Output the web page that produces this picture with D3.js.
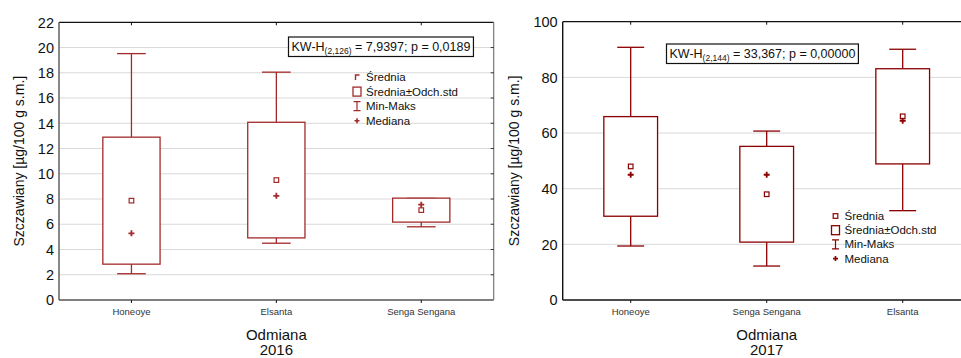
<!DOCTYPE html>
<html>
<head>
<meta charset="utf-8">
<script src="https://cdn.jsdelivr.net/npm/d3@7"></script>
<style>
  html, body { margin: 0; padding: 0; background: #fff; }
  svg { display: block; font-family: "Liberation Sans", Arial, sans-serif; }
</style>
</head>
<body>
<svg id="chart" width="961" height="358"></svg>
<script>
// 2016 season: oxalates per cultivar (mean, SD, median, min, max)
const categories2016 = ["Honeoye", "Elsanta", "Senga Sengana"];
const mean2016   = [7.87, 9.50, 7.12];
const sd2016     = [5.03, 4.58, 0.95];
const median2016 = [5.28, 8.25, 7.55];
const min2016    = [2.08, 4.50, 5.80];
const max2016    = [19.52, 18.05, 8.05];
const yTicks2016 = [0, 2, 4, 6, 8, 10, 12, 14, 16, 18, 20, 22];

// 2017 season
const categories2017 = ["Honeoye", "Senga Sengana", "Elsanta"];
const mean2017   = [48.0, 38.0, 66.0];
const sd2017     = [17.9, 17.2, 17.1];
const median2017 = [45.0, 45.0, 64.4];
const min2017    = [19.4, 12.2, 32.1];
const max2017    = [90.8, 60.7, 90.1];
const yTicks2017 = [0, 20, 40, 60, 80, 100];

const yTitle = "Szczawiany [µg/100 g s.m.]";
const xTitle = "Odmiana";
const legendLabels = ["Średnia", "Średnia±Odch.std", "Min-Maks", "Mediana"];

const svg = d3.select("#chart");

function drawPanel(cfg) {
  const g = svg.append("g");
  const x = d3.scalePoint().domain(cfg.categories).range([cfg.left, cfg.right]).padding(0.5);
  const y = d3.scaleLinear().domain([0, cfg.yMax]).range([cfg.bottom, cfg.top]);
  const step = x.step();
  const boxW = step * 0.395;
  const capW = step * 0.198;
  const col = cfg.color;

  // gridlines
  g.selectAll("line.grid").data(cfg.yTicks.filter(t => t > 0 && t < cfg.yMax)).enter()
    .append("line")
    .attr("x1", cfg.left).attr("x2", cfg.right)
    .attr("y1", d => y(d)).attr("y2", d => y(d))
    .attr("stroke", "#d9d9d9").attr("stroke-width", 1);

  // frame
  g.append("line").attr("x1", cfg.left).attr("x2", cfg.right).attr("y1", y(cfg.yMax)).attr("y2", y(cfg.yMax))
    .attr("stroke", "#111").attr("stroke-width", 1.2);
  g.append("line").attr("x1", cfg.left).attr("x2", cfg.right).attr("y1", cfg.bottom).attr("y2", cfg.bottom)
    .attr("stroke", cfg.axisColor).attr("stroke-width", 1.4);
  g.append("line").attr("x1", cfg.left).attr("x2", cfg.left).attr("y1", cfg.top).attr("y2", cfg.bottom)
    .attr("stroke", cfg.axisColor).attr("stroke-width", 1.4);
  if (cfg.right < 961) {
    g.append("line").attr("x1", cfg.right).attr("x2", cfg.right).attr("y1", cfg.top).attr("y2", cfg.bottom)
      .attr("stroke", "#777").attr("stroke-width", 1.2);
    g.selectAll("line.rt").data(cfg.yTicks.filter(t => t > 0 && t < cfg.yMax)).enter()
      .append("line")
      .attr("x1", cfg.right - 3).attr("x2", cfg.right)
      .attr("y1", d => y(d)).attr("y2", d => y(d))
      .attr("stroke", "#333").attr("stroke-width", 1);
  }

  // category ticks, top (inward) and bottom (outward)
  cfg.categories.forEach(c => {
    g.append("line").attr("x1", x(c)).attr("x2", x(c)).attr("y1", y(cfg.yMax)).attr("y2", y(cfg.yMax) + 3)
      .attr("stroke", "#111");
    g.append("line").attr("x1", x(c)).attr("x2", x(c)).attr("y1", cfg.bottom).attr("y2", cfg.bottom + 3)
      .attr("stroke", "#111");
  });

  // y axis tick labels
  g.selectAll("text.yt").data(cfg.yTicks).enter().append("text")
    .attr("x", cfg.left - 5).attr("y", d => y(d)).attr("dy", "0.36em")
    .attr("text-anchor", "end").attr("font-size", 14.5).attr("fill", "#111")
    .text(d => d);

  // x tick labels
  g.selectAll("text.xt").data(cfg.categories).enter().append("text")
    .attr("x", d => x(d)).attr("y", 315).attr("text-anchor", "middle")
    .attr("font-size", 9.5).attr("fill", "#333").text(d => d);

  // axis titles
  g.append("text").attr("transform", `translate(${cfg.yTitleX},${(cfg.top + cfg.bottom) / 2}) rotate(-90)`)
    .attr("text-anchor", "middle").attr("font-size", 14).attr("fill", "#111").text(yTitle);
  const midX = x(cfg.categories[1]);
  g.append("text").attr("x", midX).attr("y", 339.5).attr("text-anchor", "middle")
    .attr("font-size", 15).attr("fill", "#111").text(xTitle);
  g.append("text").attr("x", midX).attr("y", 355).attr("text-anchor", "middle")
    .attr("font-size", 15).attr("fill", "#111").text(cfg.year);

  // box plots
  cfg.categories.forEach((c, i) => {
    const cx = x(c);
    const lo = cfg.mean[i] - cfg.sd[i], hi = cfg.mean[i] + cfg.sd[i];
    // whiskers
    g.append("line").attr("x1", cx).attr("x2", cx).attr("y1", y(hi)).attr("y2", y(cfg.max[i]))
      .attr("stroke", col).attr("stroke-width", 1.3);
    g.append("line").attr("x1", cx).attr("x2", cx).attr("y1", y(lo)).attr("y2", y(cfg.min[i]))
      .attr("stroke", col).attr("stroke-width", 1.3);
    g.append("line").attr("x1", cx - capW / 2).attr("x2", cx + capW / 2)
      .attr("y1", y(cfg.max[i])).attr("y2", y(cfg.max[i]))
      .attr("stroke", col).attr("stroke-width", 1.3);
    g.append("line").attr("x1", cx - capW / 2).attr("x2", cx + capW / 2)
      .attr("y1", y(cfg.min[i])).attr("y2", y(cfg.min[i]))
      .attr("stroke", col).attr("stroke-width", 1.3);
    // box (mean ± SD)
    g.append("rect").attr("x", cx - boxW / 2).attr("width", boxW)
      .attr("y", y(hi)).attr("height", y(lo) - y(hi))
      .attr("fill", "#fff").attr("stroke", col).attr("stroke-width", 1.3);
    // mean
    g.append("rect").attr("x", cx - 2.3).attr("y", y(cfg.mean[i]) - 2.3)
      .attr("width", 4.6).attr("height", 4.6)
      .attr("fill", "#fff").attr("stroke", col).attr("stroke-width", 1.2);
    // median
    const my = y(cfg.median[i]);
    g.append("path").attr("d", `M${cx - 3},${my}H${cx + 3}M${cx},${my - 3}V${my + 3}`)
      .attr("stroke", col).attr("stroke-width", 1.8);
  });

  // test statistic box
  const ann = g.append("text").attr("x", cfg.annX).attr("y", cfg.annY)
    .attr("font-size", 12.5).attr("fill", "#111");
  ann.append("tspan").text("KW-H");
  ann.append("tspan").attr("font-size", 8.5).attr("dy", 3).text(cfg.annSub);
  ann.append("tspan").attr("dy", -3).text(cfg.annText);
  const bb = ann.node().getBBox();
  g.insert("rect", "text").attr("x", bb.x - 3).attr("y", cfg.annY - 13.5)
    .attr("width", bb.width + 6).attr("height", 19.5)
    .attr("fill", "#fff").attr("stroke", "#111").attr("stroke-width", 1.2);

  // legend
  const lg = g.append("g").attr("transform", `translate(${cfg.legX},${cfg.legY})`);
  legendLabels.forEach((lab, i) => {
    const ry = i * cfg.legStep;
    lg.append("text").attr("x", 9).attr("y", ry).attr("dy", "0.35em")
      .attr("font-size", 11.5).attr("fill", "#111").text(lab);
    const m = lg.append("g").attr("transform", `translate(0,${ry})`);
    if (i === 0) {
      if (cfg.partialMean) {
        m.append("path").attr("d", "M-1.5,3V-2H2.5").attr("fill", "none")
          .attr("stroke", col).attr("stroke-width", 1.4);
      } else {
        m.append("rect").attr("x", -2.3).attr("y", -2.3).attr("width", 4.6).attr("height", 4.6)
          .attr("fill", "#fff").attr("stroke", col).attr("stroke-width", 1.2);
      }
    } else if (i === 1) {
      m.append("rect").attr("x", -4).attr("y", -4.5).attr("width", 8).attr("height", 9)
        .attr("fill", "#fff").attr("stroke", col).attr("stroke-width", 1.3);
    } else if (i === 2) {
      m.append("path").attr("d", "M-3.5,-4.5H3.5M0,-4.5V4.5M-3.5,4.5H3.5").attr("fill", "none")
        .attr("stroke", col).attr("stroke-width", 1.2);
    } else {
      m.append("path").attr("d", "M-2.5,0H2.5M0,-2.5V2.5")
        .attr("stroke", col).attr("stroke-width", 1.6);
    }
  });
}

drawPanel({
  categories: categories2016, mean: mean2016, sd: sd2016, median: median2016,
  min: min2016, max: max2016, yTicks: yTicks2016, yMax: 22,
  left: 59, right: 493.7, top: 22.3, bottom: 300,
  color: "#a32a2a", axisColor: "#555", year: "2016", yTitleX: 24,
  annX: 291.5, annY: 50.5, annSub: "(2,126)", annText: " = 7,9397; p = 0,0189",
  legX: 357, legY: 77, legStep: 14.6, partialMean: true
});

drawPanel({
  categories: categories2017, mean: mean2017, sd: sd2017, median: median2017,
  min: min2017, max: max2017, yTicks: yTicks2017, yMax: 100,
  left: 562.7, right: 970.7, top: 21.7, bottom: 300,
  color: "#8b0000", axisColor: "#111", year: "2017", yTitleX: 519,
  annX: 669.5, annY: 57.5, annSub: "(2,144)", annText: " = 33,367; p = 0,00000",
  legX: 835.5, legY: 216, legStep: 14.2, partialMean: false
});
</script>
</body>
</html>
